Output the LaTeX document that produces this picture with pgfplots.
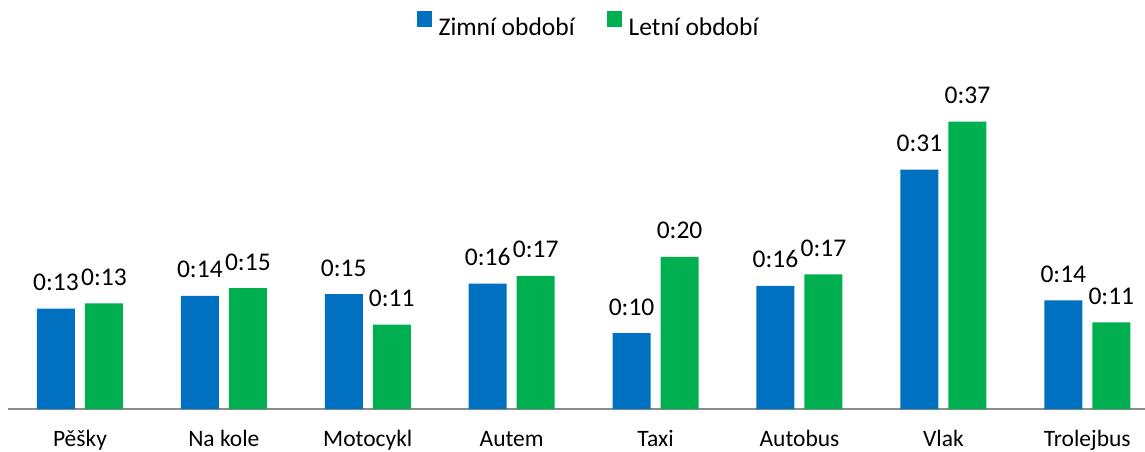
\documentclass[border=0pt]{standalone}
\usepackage{pgfplots}
\pgfplotsset{compat=1.18}
\usepackage{pgfplotstable}
\usepackage{fontspec}
\setmainfont{Carlito}
\definecolor{zima}{HTML}{0070C0}
\definecolor{leto}{HTML}{00B050}
\definecolor{osa}{HTML}{8C8C8C}

\pgfplotstableread{
x W Wl S Sl
0 13.2 0:13 13.9 0:13
1 14.9 0:14 15.9 0:15
2 15.1 0:15 11.1 0:11
3 16.5 0:16 17.5 0:17
4 10.0 0:10 20.0 0:20
5 16.2 0:16 17.7 0:17
6 31.5 0:31 37.8 0:37
7 14.3 0:14 11.4 0:11
}\data

\begin{document}
\begin{tikzpicture}
\begin{axis}[
  scale only axis, width=1137pt, height=304pt,
  xmin=-0.5, xmax=7.401, ymin=0, ymax=40,
  ybar=10pt, bar width=38pt,
  axis x line*=bottom, axis y line=none,
  x axis line style={osa, line width=1.2pt, -},
  xtick={0,...,7},
  xticklabels={Pěšky,Na kole,Motocykl,Autem,Taxi,Autobus,Vlak,Trolejbus},
  major tick length=0pt,
  xticklabel style={font=\fontsize{23.5}{28}\selectfont, anchor=base, yshift=-37.5pt},
  ytick=\empty,
  nodes near coords, point meta=explicit symbolic,
  every node near coord/.append style={font=\fontsize{25.5}{30}\selectfont, anchor=base, yshift=18pt, inner sep=0pt},
  clip=false,
  legend columns=2,
  legend style={draw=none, fill=none, at={(0.5097,1.2664)}, anchor=center,
    font=\fontsize{25.5}{30}\selectfont, inner sep=0pt,
    nodes={inner sep=0pt},
    /tikz/every odd column/.append style={column sep=7pt},
    /tikz/every even column/.append style={column sep=32pt}},
  sq/.style={legend image code/.code={\fill[##1] (0pt,0pt) rectangle (15pt,16pt);}},
]
\addplot[fill=zima, draw=none, sq] table[x=x, y=W, meta=Wl] {\data};
\addplot[fill=leto, draw=none, sq] table[x=x, y=S, meta=Sl] {\data};
\legend{Zimní období, Letní období}
\end{axis}
\pgfresetboundingbox
\useasboundingbox (-8pt,-43pt) rectangle (1137pt,409pt);
\end{tikzpicture}
\end{document}
